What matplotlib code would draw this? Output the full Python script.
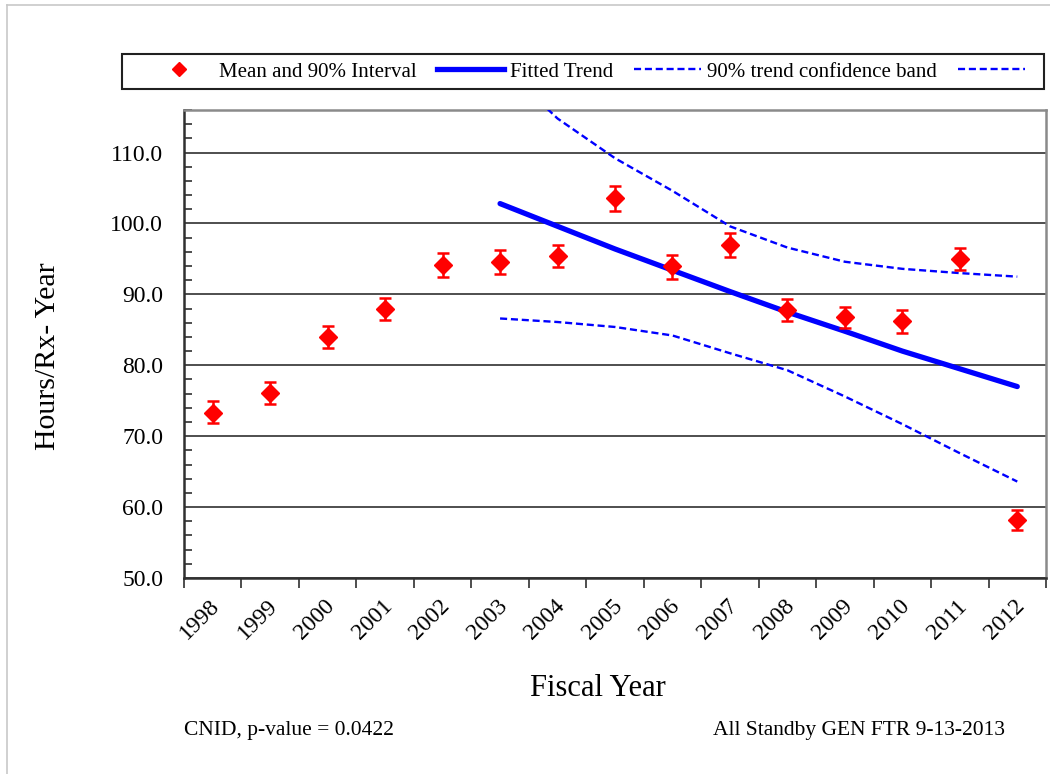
import matplotlib
matplotlib.use("Agg")
import matplotlib.pyplot as plt
import matplotlib.transforms as mtransforms
from matplotlib.lines import Line2D
from matplotlib.patches import Rectangle
import numpy as np

plt.rcParams['font.family'] = ['Liberation Serif', 'DejaVu Serif']

# ---- data ----
years = ['1998', '1999', '2000', '2001', '2002', '2003', '2004', '2005',
         '2006', '2007', '2008', '2009', '2010', '2011', '2012']
mean_vals = [73.3, 76.1, 84.0, 88.0, 94.1, 94.5, 95.4, 103.6,
             94.0, 96.9, 87.8, 86.8, 86.2, 95.0, 58.2]
lower_vals = [71.9, 74.6, 82.4, 86.4, 92.5, 92.9, 93.8, 101.8,
              92.2, 95.3, 86.2, 85.2, 84.6, 93.4, 56.8]
upper_vals = [74.9, 77.6, 85.6, 89.5, 95.8, 96.2, 97.0, 105.3,
              95.5, 98.6, 89.3, 88.2, 87.8, 96.6, 59.6]

trend_years = ['2003', '2004', '2005', '2006', '2007', '2008', '2009',
               '2010', '2011', '2012']
trend_vals = [102.8, 99.6, 96.4, 93.4, 90.4, 87.5, 84.8, 82.0, 79.5, 77.0]
band_upper = [122.5, 114.8, 109.2, 104.6, 99.6, 96.6, 94.6, 93.6, 93.0, 92.5]
band_lower = [86.6, 86.1, 85.4, 84.2, 81.7, 79.3, 75.6, 71.7, 67.6, 63.6]

y_ticks = [50, 60, 70, 80, 90, 100, 110]

RED = '#FF0000'
BLUE = '#0000FF'

# ---- figure ----
W, H = 1050, 774
fig = plt.figure(figsize=(W / 100, H / 100), dpi=100)
ax = fig.add_axes([184 / W, 1 - 578 / H, (1046 - 184) / W, (578 - 110) / H])

x = np.arange(len(years))
xt = np.array([years.index(y) for y in trend_years])
mean_arr = np.array(mean_vals)
yerr = [mean_arr - np.array(lower_vals), np.array(upper_vals) - mean_arr]

# gridlines
ax.set_yticks(y_ticks)
ax.yaxis.grid(True, color='#303030', linewidth=1.2)
ax.set_axisbelow(True)

ax.errorbar(x, mean_vals, yerr=yerr, fmt='D', color=RED,
            ecolor=RED, markersize=9.5, elinewidth=1.8,
            capsize=4.5, capthick=1.8, zorder=5)
ax.plot(xt, trend_vals, color=BLUE, linewidth=3.8,
        solid_capstyle='round', zorder=4)
ax.plot(xt, band_upper, color=BLUE, linewidth=1.7,
        dashes=(3.0, 1.6), zorder=3)
ax.plot(xt, band_lower, color=BLUE, linewidth=1.7,
        dashes=(3.0, 1.6), zorder=3)

ax.set_xlim(-0.5, len(years) - 0.5)
ax.set_ylim(50, 116)

# y axis
ax.set_yticklabels([f'{v:.1f}' for v in y_ticks], fontsize=17)
ax.set_yticks(np.arange(50, 116.1, 2), minor=True)
ax.tick_params(axis='y', which='major', length=0, pad=15)
ax.tick_params(axis='y', which='minor', direction='in', length=6,
               width=1.2, color='#303030')

# x axis
ax.set_xticks(x)
ax.set_xticklabels(years, fontsize=17, rotation=45, ha='right',
                   va='center', rotation_mode='anchor')
ax.set_xticks(np.arange(-0.5, len(years), 1.0), minor=True)
ax.tick_params(axis='x', which='major', length=0, pad=18)
ax.tick_params(axis='x', which='minor', direction='out', length=7,
               width=1.2, color='#303030')
offset = mtransforms.ScaledTranslation(4 / 100, 0, fig.dpi_scale_trans)
for lab in ax.get_xticklabels():
    lab.set_transform(lab.get_transform() + offset)

for side in ['left', 'bottom']:
    ax.spines[side].set_color('#303030')
    ax.spines[side].set_linewidth(1.8)
for side in ['top', 'right']:
    ax.spines[side].set_color('#8a8a8a')
    ax.spines[side].set_linewidth(1.8)

# labels
fig.text(48 / W, 1 - 356 / H, 'Hours/Rx- Year', rotation=90,
         fontsize=21.5, ha='center', va='center')
fig.text(598 / W, 1 - 689 / H, 'Fiscal Year', fontsize=22,
         ha='center', va='center')
fig.text(184 / W, 1 - 731 / H, 'CNID, p-value = 0.0422', fontsize=15.5,
         ha='left', va='center')
fig.text(1005 / W, 1 - 731 / H, 'All Standby GEN FTR 9-13-2013',
         fontsize=15.5, ha='right', va='center')

# legend
h_mean = Line2D([], [], marker='D', color=RED, linestyle='none',
                markersize=7)
h_trend = Line2D([], [], color=BLUE, linewidth=3.8)
h_band = Line2D([], [], color=BLUE, linewidth=1.7, dashes=(3.0, 1.6))
h_band2 = Line2D([], [], color=BLUE, linewidth=1.7, dashes=(3.0, 1.6))
leg = fig.legend([h_mean, h_trend, h_band, h_band2],
                 ['Mean and 90% Interval', 'Fitted Trend',
                  '90% trend confidence band', ''],
                 ncol=4, frameon=False, fontsize=15,
                 loc='center left',
                 bbox_to_anchor=(146 / W, 1 - 72 / H),
                 handlelength=3.2, handletextpad=0.3, columnspacing=1.0,
                 borderpad=0.0, borderaxespad=0.0)
fig.patches.append(Rectangle((122 / W, 1 - 89 / H), (1044 - 122) / W,
                             (89 - 54) / H, transform=fig.transFigure,
                             fill=False, edgecolor='#202020',
                             linewidth=1.5))

# figure border (chart area)
fig.add_artist(Line2D([7 / W, 7 / W], [0, 1 - 5 / H],
                      transform=fig.transFigure, color='#c8c8c8', lw=1.2))
fig.add_artist(Line2D([7 / W, 1], [1 - 5 / H, 1 - 5 / H],
                      transform=fig.transFigure, color='#c8c8c8', lw=1.2))

fig.savefig('out.png', dpi=100)
